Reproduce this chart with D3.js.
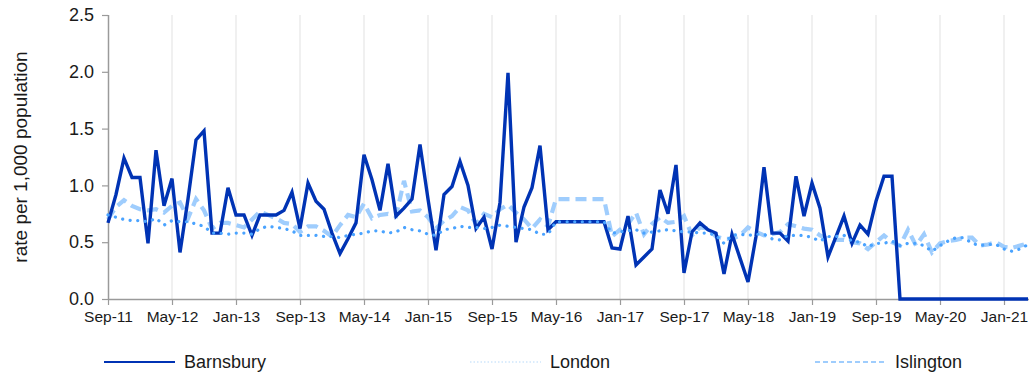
<!DOCTYPE html>
<html>
<head>
<meta charset="utf-8">
<script src="https://cdn.jsdelivr.net/npm/d3@7"></script>
<style>
  html, body { margin: 0; padding: 0; background: #fff; }
  svg { display: block; font-family: "Liberation Sans", Arial, sans-serif; }
</style>
</head>
<body>
<svg id="chart" width="1029" height="377"></svg>
<script>
// Monthly rates per 1,000 population, Sep 2011 – Apr 2021
const startMonth = new Date(2011, 8, 1);
const endMonth = new Date(2021, 3, 1);
const months = d3.timeMonth.range(startMonth, d3.timeMonth.offset(endMonth, 1));

const barnsbury = [
  0.67, 0.92, 1.24, 1.07, 1.07, 0.49, 1.31, 0.82, 1.06, 0.41,
  0.88, 1.40, 1.48, 0.58, 0.58, 0.98, 0.74, 0.74, 0.56, 0.74,
  0.74, 0.74, 0.78, 0.94, 0.62, 1.02, 0.86, 0.79, 0.58, 0.40,
  0.53, 0.67, 1.27, 1.05, 0.78, 1.19, 0.73, 0.80, 0.88, 1.36,
  0.88, 0.43, 0.92, 0.99, 1.21, 1.00, 0.62, 0.72, 0.44, 0.85,
  1.99, 0.50, 0.81, 0.98, 1.35, 0.61, 0.68, 0.68, 0.68, 0.68,
  0.68, 0.68, 0.68, 0.45, 0.44, 0.73, 0.30, 0.37, 0.44, 0.96,
  0.75, 1.18, 0.23, 0.59, 0.67, 0.61, 0.58, 0.22, 0.57, 0.36,
  0.15, 0.55, 1.16, 0.58, 0.58, 0.51, 1.08, 0.73, 1.02, 0.80,
  0.37, 0.55, 0.73, 0.49, 0.65, 0.57, 0.86, 1.08, 1.08, 0,
  0, 0, 0, 0, 0, 0, 0, 0, 0, 0,
  0, 0, 0, 0, 0, 0
];

const london = [
  0.74, 0.72, 0.70, 0.69, 0.69, 0.68, 0.71, 0.65, 0.69, 0.68,
  0.68, 0.66, 0.64, 0.58, 0.58, 0.57, 0.58, 0.58, 0.57, 0.62,
  0.64, 0.63, 0.62, 0.60, 0.56, 0.56, 0.56, 0.55, 0.55, 0.54,
  0.56, 0.57, 0.58, 0.60, 0.60, 0.58, 0.59, 0.63, 0.61, 0.60,
  0.57, 0.56, 0.61, 0.62, 0.64, 0.63, 0.63, 0.62, 0.63, 0.65,
  0.64, 0.63, 0.62, 0.61, 0.57, 0.57, 0.68, 0.68, 0.68, 0.68,
  0.68, 0.68, 0.68, 0.58, 0.59, 0.60, 0.61, 0.58, 0.59, 0.60,
  0.61, 0.60, 0.59, 0.59, 0.58, 0.58, 0.56, 0.49, 0.56, 0.57,
  0.56, 0.57, 0.57, 0.53, 0.52, 0.56, 0.56, 0.56, 0.54, 0.51,
  0.55, 0.55, 0.56, 0.51, 0.50, 0.46, 0.49, 0.49, 0.51, 0.47,
  0.49, 0.49, 0.47, 0.42, 0.47, 0.51, 0.54, 0.54, 0.49, 0.47,
  0.48, 0.48, 0.44, 0.42, 0.44, 0.48
];

const islington = [
  0.70, 0.81, 0.87, 0.82, 0.79, 0.78, 0.79, 0.76, 0.82, 0.85,
  0.71, 0.88, 0.78, 0.62, 0.67, 0.67, 0.65, 0.63, 0.70, 0.77,
  0.74, 0.71, 0.67, 0.66, 0.59, 0.64, 0.64, 0.60, 0.55, 0.65,
  0.74, 0.72, 0.84, 0.71, 0.74, 0.75, 0.73, 1.04, 0.77, 0.78,
  0.72, 0.62, 0.69, 0.73, 0.81, 0.78, 0.66, 0.75, 0.72, 0.79,
  0.83, 0.76, 0.70, 0.62, 0.70, 0.64, 0.88, 0.88, 0.88, 0.88,
  0.88, 0.88, 0.88, 0.55, 0.61, 0.66, 0.76, 0.57, 0.66, 0.72,
  0.67, 0.68, 0.73, 0.56, 0.63, 0.62, 0.55, 0.53, 0.53, 0.56,
  0.63, 0.59, 0.56, 0.57, 0.59, 0.66, 0.64, 0.62, 0.61, 0.56,
  0.53, 0.52, 0.52, 0.50, 0.49, 0.44, 0.50, 0.56, 0.50, 0.47,
  0.61, 0.47, 0.57, 0.41, 0.49, 0.51, 0.52, 0.54, 0.54, 0.47,
  0.48, 0.50, 0.46, 0.45, 0.47, 0.49
];

const yTicks = [0, 0.5, 1.0, 1.5, 2.0, 2.5];
const xTickLabels = ["Sep-11", "May-12", "Jan-13", "Sep-13", "May-14", "Jan-15", "Sep-15",
  "May-16", "Jan-17", "Sep-17", "May-18", "Jan-19", "Sep-19", "May-20", "Jan-21"];
const seriesNames = ["Barnsbury", "London", "Islington"];

const fmt = d3.timeFormat("%b-%y");
const tickMonths = months.filter(m => xTickLabels.includes(fmt(m)));

const svg = d3.select("#chart");
const plotLeft = 108, plotRight = 1028, plotTop = 15, plotBottom = 299;

const x = d3.scalePoint().domain(months).range([plotLeft, plotRight]);
const y = d3.scaleLinear().domain([0, 2.5]).range([plotBottom, plotTop]);

// vertical gridlines
svg.append("g")
  .selectAll("line")
  .data(tickMonths.slice(1))
  .join("line")
  .attr("x1", d => x(d)).attr("x2", d => x(d))
  .attr("y1", plotTop).attr("y2", plotBottom)
  .attr("stroke", "#ebebeb").attr("stroke-width", 1.5);

// x axis
const xAxis = svg.append("g")
  .attr("transform", `translate(0,${plotBottom})`)
  .call(d3.axisBottom(x).tickValues(tickMonths).tickFormat(fmt).tickSize(6).tickPadding(6));
xAxis.select(".domain").attr("stroke", "#9a9a9a").attr("stroke-width", 1.5)
  .attr("d", `M${plotLeft},0.5H1029`);
xAxis.selectAll(".tick line").attr("stroke", "#9a9a9a").attr("stroke-width", 1.2);
xAxis.selectAll(".tick text").attr("font-size", "15.5px").attr("fill", "#1a1a1a")
  .attr("font-family", "Liberation Sans, Arial, sans-serif");

// y axis
const yAxis = svg.append("g")
  .attr("transform", `translate(${plotLeft},0)`)
  .call(d3.axisLeft(y).tickValues(yTicks).tickFormat(d3.format(".1f")).tickSize(6).tickPadding(8));
yAxis.select(".domain").attr("stroke", "#9a9a9a").attr("stroke-width", 1.5)
  .attr("d", `M0.5,${plotTop}V${plotBottom}`);
yAxis.selectAll(".tick line").attr("stroke", "#9a9a9a").attr("stroke-width", 1.2);
yAxis.selectAll(".tick text").attr("font-size", "18px").attr("fill", "#1a1a1a")
  .attr("font-family", "Liberation Sans, Arial, sans-serif");

// y axis title
svg.append("text")
  .attr("transform", `translate(27,${(plotTop + plotBottom) / 2}) rotate(-90)`)
  .attr("text-anchor", "middle")
  .attr("font-size", "19px").attr("fill", "#1a1a1a")
  .text("rate per 1,000 population");

const line = vals => d3.line()
  .x((d, i) => x(months[i]))
  .y(d => y(d))(vals);

const styles = {
  Barnsbury: { stroke: "#0033b4", width: 3.4, dash: null, cap: "butt" },
  London: { stroke: "#4aa3ff", width: 3.2, dash: "0.1 7.5", cap: "round" },
  Islington: { stroke: "#9fcdfd", width: 4.2, dash: "11 6", cap: "butt" }
};
const seriesData = { Barnsbury: barnsbury, London: london, Islington: islington };

// drawing order: Islington underneath, London dots on top
["Islington", "Barnsbury", "London"].forEach(name => {
  const s = styles[name];
  svg.append("path")
    .attr("d", line(seriesData[name]))
    .attr("fill", "none")
    .attr("stroke", s.stroke)
    .attr("stroke-width", s.width)
    .attr("stroke-linejoin", "miter")
    .attr("stroke-linecap", s.cap)
    .attr("stroke-dasharray", s.dash);
});

// legend
const legendX = [104, 470, 815];
const legendY = 362;
const legendStyles = {
  Barnsbury: { stroke: "#0033b4", width: 2.2, dash: null },
  London: { stroke: "#cfe6fb", width: 1.5, dash: "1.5 2" },
  Islington: { stroke: "#9fcdfd", width: 2, dash: "5 3" }
};
const lg = svg.append("g");
seriesNames.forEach((name, i) => {
  const g = lg.append("g").attr("transform", `translate(${legendX[i]},${legendY})`);
  const s = legendStyles[name];
  g.append("line").attr("x1", 0).attr("x2", 71).attr("y1", 0).attr("y2", 0)
    .attr("stroke", s.stroke).attr("stroke-width", s.width).attr("stroke-dasharray", s.dash);
  g.append("text").attr("x", 80).attr("y", 0).attr("dy", "0.35em")
    .attr("font-size", "18px").attr("fill", "#1a1a1a").text(name);
});
</script>
</body>
</html>
